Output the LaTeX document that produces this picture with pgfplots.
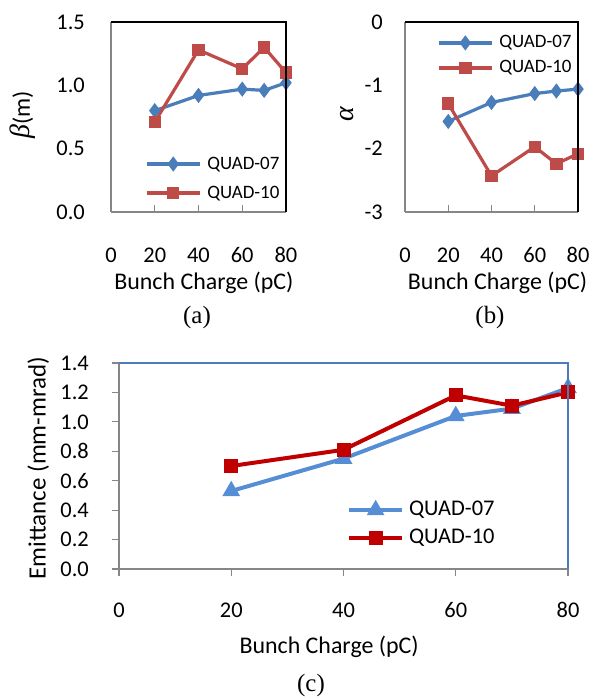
\documentclass[border=0pt]{standalone}
\usepackage{fontspec}
\setmainfont{Carlito}
\newfontfamily\serif{Liberation Serif}
\usepackage{pgfplots}
\pgfplotsset{compat=1.18}

\definecolor{bluea}{HTML}{4A7EBB}
\definecolor{reda}{HTML}{BE4B48}
\definecolor{bluec}{HTML}{558ED5}
\definecolor{redc}{HTML}{C00000}
\definecolor{axgray}{HTML}{868686}

\pgfplotsset{
  panel/.style={
    scale only axis,
    anchor=south west,
    xmin=0, xmax=80,
    xtick={0,20,40,60,80},
    axis x line*=bottom, axis y line*=left,
    axis line style={-, draw=axgray, line width=1.6bp},
    major tick length=7bp,
    /pgf/number format/assume math mode=true,
    tick label style={font=\fontsize{22.5}{25}\selectfont},
    xticklabel style={anchor=center, yshift=-43bp},
    label style={font=\fontsize{24}{28}\selectfont},
    legend cell align=left,
    legend image code/.code={
      \draw[mark repeat=2, mark phase=2, #1] plot coordinates {(0bp,0bp) (26.5bp,0bp) (53bp,0bp)};
    },
  },
  onedec/.style={
    yticklabel style={/pgf/number format/fixed, /pgf/number format/fixed zerofill,
      /pgf/number format/precision=1},
  },
}

\begin{document}
\begin{tikzpicture}
\path[use as bounding box] (0,0) rectangle (591bp,698bp);

% (a) beta
\begin{axis}[panel, onedec,
  at={(111bp,486bp)}, width=175bp, height=190bp,
  ymin=0, ymax=1.5, ytick={0,0.5,1,1.5},
  yticklabel style={anchor=east, inner sep=0pt, xshift=-26bp},
  xtick align=inside, xtick style={draw=axgray, line width=1.2bp},
  ytick style={draw=none},
  xlabel={Bunch Charge (pC)},
  xlabel style={at={(axis description cs:0.531,-0.374)}, anchor=center},
  ylabel={{\fontsize{28}{30}\selectfont\serif\itshape β}(m)},
  ylabel style={at={(axis description cs:-0.503,0.511)}, anchor=center},
  legend style={at={(axis description cs:0.177,0.176)}, anchor=west,
    draw=none, fill=none, font=\fontsize{19}{22}\selectfont, row sep=11bp,
    nodes={inner sep=0pt, text height=14bp, text depth=4bp},
    /tikz/every odd column/.append style={column sep=6bp}},
  after end axis/.code={
    \draw[black, line width=1.3bp] (rel axis cs:0,1) -- (rel axis cs:1,1) -- (rel axis cs:1,0);
  },
]
\addplot[bluea, line width=3.2bp, mark=diamond*, mark size=5bp] coordinates {
  (20,0.80) (40,0.92) (60,0.97) (70,0.96) (80,1.02)
};
\addplot[reda, line width=3.2bp, mark=square*, mark size=4.6bp] coordinates {
  (20,0.71) (40,1.28) (60,1.13) (70,1.30) (80,1.10)
};
\legend{QUAD-07, QUAD-10}
\end{axis}

% (b) alpha
\begin{axis}[panel,
  at={(405bp,486bp)}, width=173bp, height=190bp,
  ymin=-3, ymax=0, ytick={-3,-2,-1,0},
  yticklabel style={anchor=east, inner sep=0pt, xshift=-22bp},
  xtick align=inside, xtick style={draw=axgray, line width=1.2bp},
  ytick style={draw=none},
  xlabel={Bunch Charge (pC)},
  xlabel style={at={(axis description cs:0.535,-0.374)}, anchor=center},
  ylabel={{\fontsize{28}{30}\selectfont\serif\itshape α}},
  ylabel style={at={(axis description cs:-0.335,0.516)}, anchor=center},
  legend style={at={(axis description cs:0.168,0.824)}, anchor=west,
    draw=none, fill=none, font=\fontsize{19}{22}\selectfont, row sep=7bp,
    nodes={inner sep=0pt, text height=14bp, text depth=4bp},
    /tikz/every odd column/.append style={column sep=6bp}},
  after end axis/.code={
    \draw[black, line width=1.3bp] (rel axis cs:0,1) -- (rel axis cs:1,1) -- (rel axis cs:1,0);
  },
]
\addplot[bluea, line width=3.2bp, mark=diamond*, mark size=5bp] coordinates {
  (20,-1.57) (40,-1.27) (60,-1.13) (70,-1.09) (80,-1.06)
};
\addplot[reda, line width=3.2bp, mark=square*, mark size=4.6bp] coordinates {
  (20,-1.29) (40,-2.43) (60,-1.97) (70,-2.24) (80,-2.08)
};
\legend{QUAD-07, QUAD-10}
\end{axis}

% (c) emittance
\begin{axis}[panel, onedec,
  at={(119bp,129bp)}, width=449bp, height=206bp,
  ymin=0, ymax=1.4, ytick={0,0.2,...,1.4},
  yticklabel style={anchor=east, inner sep=0pt, xshift=-23bp},
  xticklabel style={yshift=9bp},
  tick align=outside, tick style={draw=axgray, line width=1.2bp},
  xlabel={Bunch Charge (pC)},
  xlabel style={at={(axis description cs:0.468,-0.379)}, anchor=center},
  ylabel={Emittance (mm-mrad)},
  ylabel style={at={(axis description cs:-0.180,0.490)}, anchor=center, font=\fontsize{25}{28}\selectfont},
  legend style={at={(axis description cs:0.501,0.218)}, anchor=west,
    draw=none, fill=none, font=\fontsize{22.5}{25}\selectfont, row sep=8bp,
    nodes={inner sep=0pt, text height=15bp, text depth=5bp},
    /tikz/every odd column/.append style={column sep=5bp}},
  after end axis/.code={
    \draw[bluea, line width=1.3bp] (rel axis cs:0,1) -- (rel axis cs:1,1) -- (rel axis cs:1,0);
  },
]
\addplot[bluec, line width=4bp, mark=triangle*, mark size=6.3bp] coordinates {
  (20,0.53) (40,0.75) (60,1.04) (70,1.09) (80,1.23)
};
\addplot[redc, line width=4bp, mark=square*, mark size=5bp] coordinates {
  (20,0.70) (40,0.81) (60,1.18) (70,1.11) (80,1.20)
};
\legend{QUAD-07, QUAD-10}
\end{axis}

\node[font=\fontsize{25}{28}\selectfont\serif] at (197bp,380bp) {(a)};
\node[font=\fontsize{25}{28}\selectfont\serif] at (490bp,380bp) {(b)};
\node[font=\fontsize{25}{28}\selectfont\serif] at (311bp,12bp) {(c)};
\end{tikzpicture}
\end{document}
